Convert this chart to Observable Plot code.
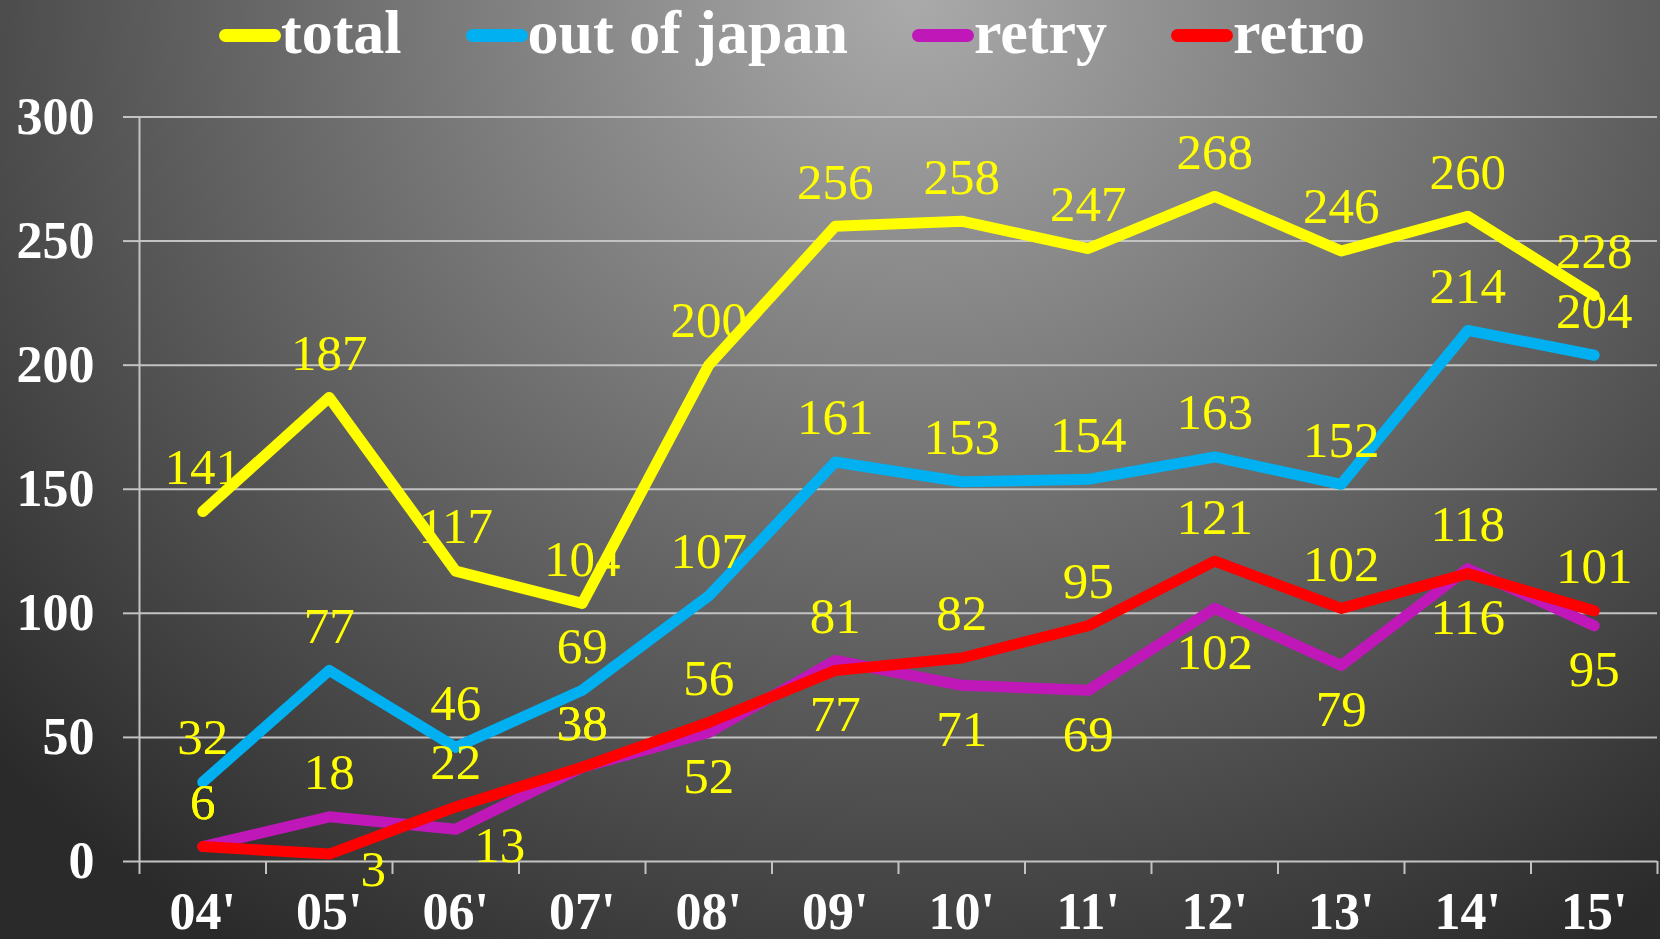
<!DOCTYPE html>
<html><head><meta charset="utf-8">
<script src="https://cdn.jsdelivr.net/npm/d3@7"></script>
<script src="https://cdn.jsdelivr.net/npm/@observablehq/plot@0.6"></script>
<style>
html,body{margin:0;padding:0;width:1660px;height:939px;overflow:hidden;}
body{background: radial-gradient(ellipse 75% 120% at 55% 0%, #aaaaaa 0%, #6a6a6a 50%, #2a2a2a 100%); font-family:"Liberation Serif","Times New Roman",serif; position:relative;}
#legend{position:absolute;left:219px;top:1px;display:flex;align-items:flex-start;gap:64px;z-index:2}
.item{display:flex;align-items:flex-start;}
.sw{width:62px;height:13px;border-radius:6.5px;margin-top:28px;}
.lab{font-size:62px;line-height:62px;font-weight:bold;color:#fff;white-space:pre;}
#chart{position:absolute;left:0;top:0}
</style></head><body>
<div id="legend"></div><div id="chart"></div>
<script>
const years = ["04'","05'","06'","07'","08'","09'","10'","11'","12'","13'","14'","15'"];
const total = [141,187,117,104,200,256,258,247,268,246,260,228];
const outOfJapan = [32,77,46,69,107,161,153,154,163,152,214,204];
const retry = [6,18,13,38,52,81,71,69,102,79,118,95];
const retro = [6,3,22,38,56,77,82,95,121,102,116,101];
const seriesNames = ["total","out of japan","retry","retro"];
const seriesColors = ["#ffff00","#00b0f0","#c018b8","#ff0000"];
const yTicks = [0,50,100,150,200,250,300];

const values = [total, outOfJapan, retry, retro];
const rows = [];
seriesNames.forEach((s,k)=>values[k].forEach((v,i)=>rows.push({series:s, i, value:v})));
// the lower of the two close series gets its label under the line
function below(d){
  if (d.series === "retry") return d.value < retro[d.i];
  if (d.series === "retro") return d.value < retry[d.i];
  return false;
}
// labels under the line that would hit the category labels are moved to the right
const nearAxis = d => d.value < 20;

// legend
const legend = document.getElementById("legend");
seriesNames.forEach((s,k)=>{
  const it = document.createElement("div"); it.className="item";
  const sw = document.createElement("div"); sw.className="sw"; sw.style.background=seriesColors[k];
  const lb = document.createElement("div"); lb.className="lab"; lb.textContent=s;
  it.appendChild(sw); it.appendChild(lb); legend.appendChild(it);
});

const grid = "#c3c3c3";
const n = years.length;
const lab = {x:"i", y:"value", text:d=>String(d.value), fill:"#ffff00", fontSize:51};
const chart = Plot.plot({
  width:1660, height:939,
  marginLeft:139, marginRight:3, marginTop:116.5, marginBottom:78,
  style:{background:"transparent", fontFamily:'"Liberation Serif","Times New Roman",serif', overflow:"visible"},
  x:{type:"linear", domain:[-0.5, n-0.5], label:null},
  y:{domain:[0,300], label:null},
  color:{domain:seriesNames, range:seriesColors},
  marks:[
    Plot.gridY(yTicks, {stroke:grid, strokeOpacity:1, strokeWidth:2}),
    Plot.ruleX([-0.5], {y1:0, y2:300, stroke:grid, strokeWidth:2}),
    Plot.axisX({ticks:d3.range(n+1).map(i=>i-0.5), tickSize:13, tickFormat:()=>"", stroke:grid, strokeWidth:2, label:null}),
    Plot.axisX({ticks:d3.range(n), tickSize:0, tickPadding:31, tickFormat:i=>years[i], fontSize:52, fontWeight:"bold", fill:"white", label:null}),
    Plot.axisY({ticks:yTicks, tickSize:16, tickPadding:29, fontSize:52, fontWeight:"bold", fill:"white", stroke:grid, strokeWidth:2, label:null}),
    Plot.line(rows, {x:"i", y:"value", z:"series", stroke:"series", strokeWidth:11, strokeLinecap:"round", strokeLinejoin:"round"}),
    Plot.text(rows, {...lab, filter:d=>!below(d), dy:-44}),
    Plot.text(rows, {...lab, filter:d=>below(d) && !nearAxis(d), dy:44}),
    Plot.text(rows, {...lab, filter:d=>below(d) && nearAxis(d), dx:44, dy:16})
  ]
});
document.getElementById("chart").appendChild(chart);
</script>
</body></html>
